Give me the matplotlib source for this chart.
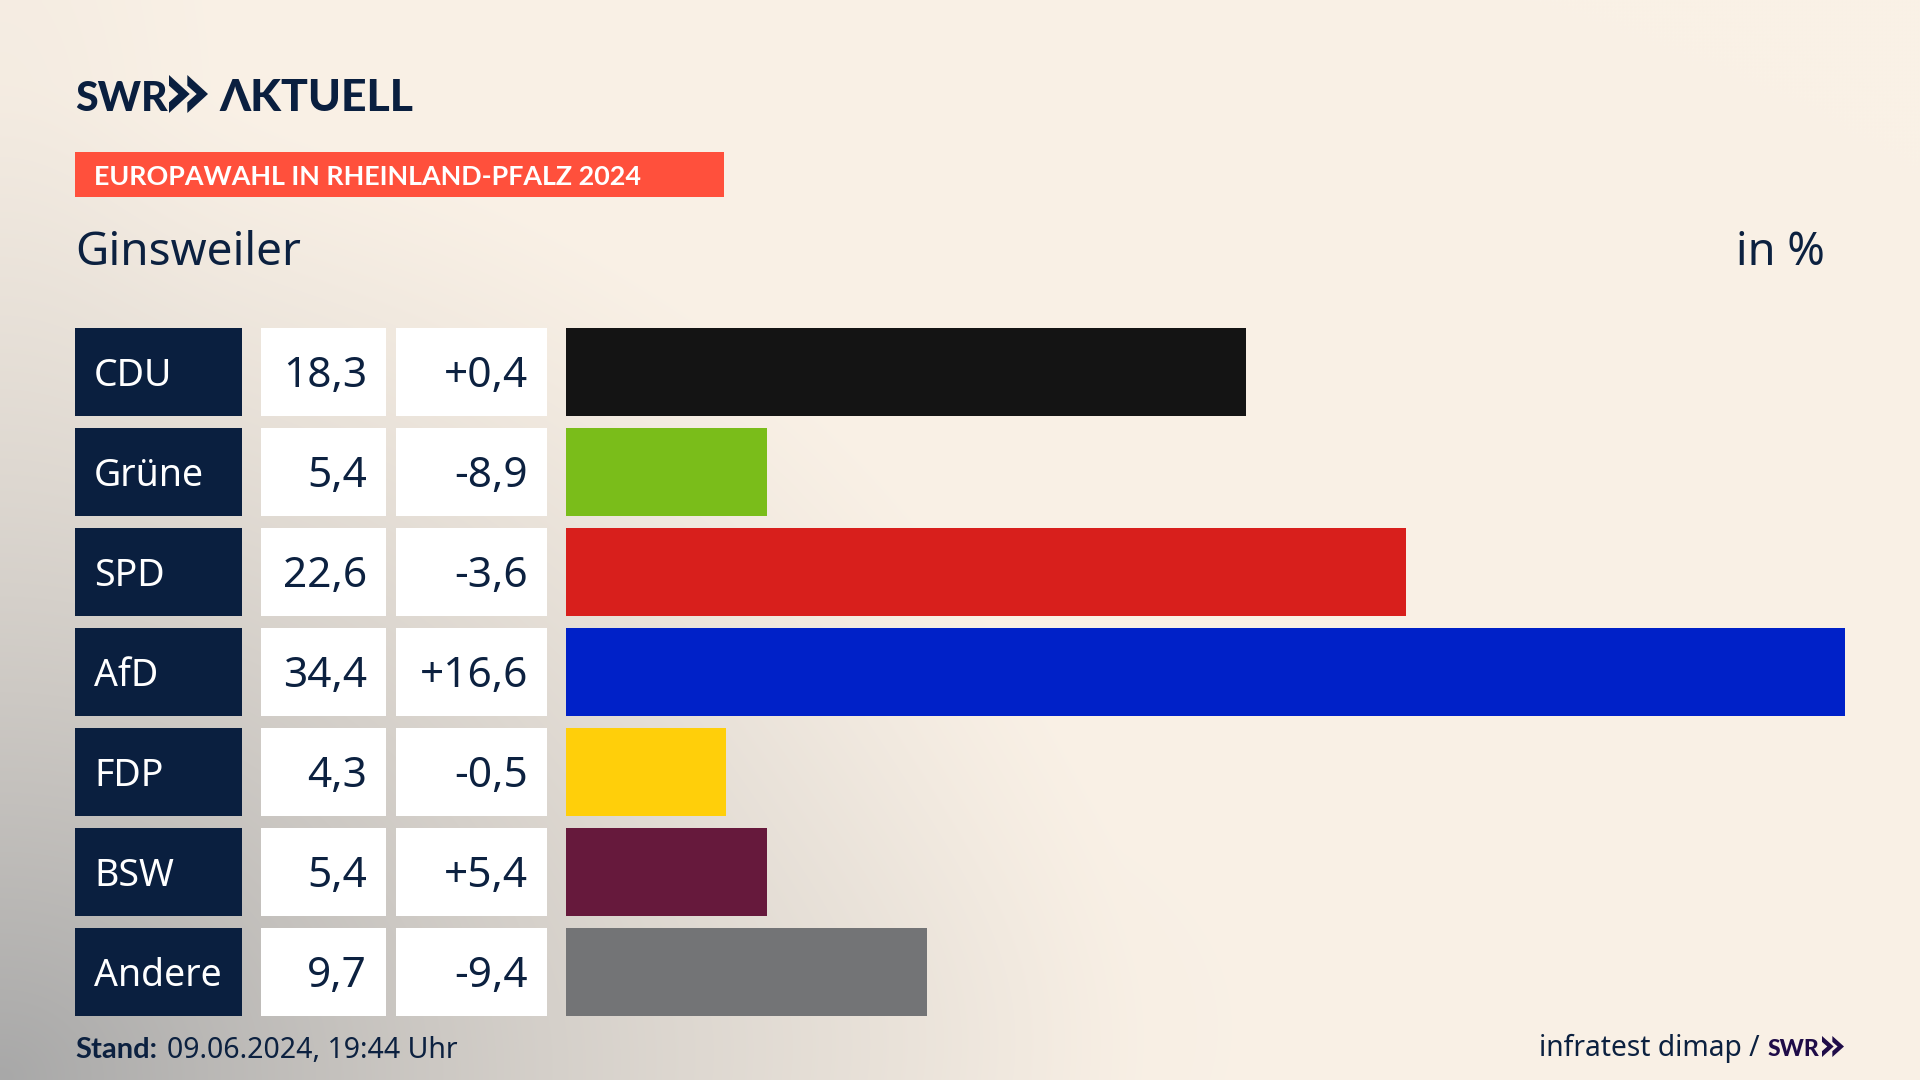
import numpy as np
import matplotlib
matplotlib.use('Agg')
import matplotlib.pyplot as plt
from matplotlib.patches import Polygon, Rectangle

# Daten
parteien = ['CDU', 'Grüne', 'SPD', 'AfD', 'FDP', 'BSW', 'Andere']
anteile = [18.3, 5.4, 22.6, 34.4, 4.3, 5.4, 9.7]
differenz = [0.4, -8.9, -3.6, 16.6, -0.5, 5.4, -9.4]
farben = ['#141414', '#7abd1a', '#d81f1c', '#0021c8', '#ffcf0a', '#66193c', '#737476']

NAVY = '#0a1f3f'
TEXT = '#0c2140'
FONT = ['Noto Sans', 'DejaVu Sans']
BOLD = ['Lato', 'DejaVu Sans']
plt.rcParams['font.family'] = FONT

W, H = 1920, 1080
fig = plt.figure(figsize=(19.2, 10.8), dpi=100)

# Hintergrund: Verlauf von grau (unten links) nach creme
yy, xx = np.mgrid[0:H:270j, 0:W:480j]
d = np.sqrt((xx / 1150) ** 2 + ((H - yy) / 1000) ** 2)
mix = np.clip(1 - d, 0, 1) ** 1.25
mix = mix + 0.07 * np.exp(-(xx / 160) ** 2 - ((yy - 150) / 350) ** 2)
mix = mix + 0.05 * np.exp(-((xx - 900) / 280) ** 2 - ((yy - 1030) / 200) ** 2)
mix = np.clip(mix, 0, 1)[..., None]
creme = np.array([250, 241, 230]) / 255
grau = np.array([168, 168, 168]) / 255
bg = creme * (1 - mix) + grau * mix

ax_bg = fig.add_axes([0, 0, 1, 1])
ax_bg.imshow(bg, extent=(0, W, H, 0), aspect='auto', interpolation='bicubic')
ax_bg.set_xlim(0, W)
ax_bg.set_ylim(H, 0)
ax_bg.axis('off')

# Balken
ROW_TOP, ROW_PITCH, ROW_H = 328, 100, 88
BAR_L, BAR_R = 566, 1845
n = len(parteien)
bottom = ROW_TOP + ROW_PITCH * (n - 1) + ROW_H
ax = fig.add_axes([BAR_L / W, 1 - bottom / H, (BAR_R - BAR_L) / W, (bottom - ROW_TOP) / H])
ax.patch.set_alpha(0)
ax.barh(range(n), anteile, height=ROW_H / ROW_PITCH, color=farben)
ax.set_xlim(0, max(anteile))
ax.set_ylim(n - 1 + ROW_H / ROW_PITCH / 2, -ROW_H / ROW_PITCH / 2)
ax.axis('off')

# Tabelle links
for i, p in enumerate(parteien):
    top = ROW_TOP + i * ROW_PITCH
    mid = top + ROW_H / 2 + 4
    ax_bg.add_patch(Rectangle((75, top), 167, ROW_H, color=NAVY, lw=0))
    ax_bg.add_patch(Rectangle((261, top), 125, ROW_H, color='white', lw=0))
    ax_bg.add_patch(Rectangle((396, top), 151, ROW_H, color='white', lw=0))
    ax_bg.text(94, mid, p, color='white', fontsize=27, va='center', ha='left')
    ax_bg.text(367, mid, f'{anteile[i]:.1f}'.replace('.', ','), color=TEXT, fontsize=30.5,
               va='center', ha='right')
    ax_bg.text(528, mid, f'{differenz[i]:+.1f}'.replace('.', ','), color=TEXT, fontsize=30.5,
               va='center', ha='right')


def chevrons(x, y, w, h, color):
    # zwei Pfeile vom SWR Logo
    step = w * 0.47
    for k in range(2):
        x0 = x + k * step
        ax_bg.add_patch(Polygon([(x0, y), (x0 + w * 0.53, y + h / 2), (x0, y + h),
                                 (x0, y + h * 0.72), (x0 + w * 0.24, y + h / 2), (x0, y + h * 0.28)],
                                closed=True, color=color, lw=0))


# Kopf
ax_bg.text(75, 111, 'SWR', family=BOLD, weight='black', fontsize=29.5, color=NAVY, va='baseline')
chevrons(169, 75, 39, 38, NAVY)
ax_bg.text(219, 111, 'ΛKTUELL', family=BOLD, weight='black', fontsize=32, color=NAVY, va='baseline')

ax_bg.add_patch(Rectangle((75, 152), 649, 45, color='#ff503c', lw=0))
ax_bg.text(94, 177, 'EUROPAWAHL IN RHEINLAND-PFALZ 2024', family=BOLD, color='white', weight='bold',
           fontsize=19.4, va='center', ha='left')
ax_bg.text(75, 253, 'Ginsweiler', color=TEXT, fontsize=33, va='center', ha='left')
ax_bg.text(1825, 253, 'in %', color=TEXT, fontsize=32.5, va='center', ha='right')

# Fuss
ax_bg.text(75, 1050, 'Stand:', family=BOLD, color=TEXT, weight='bold', fontsize=21, va='center', ha='left')
ax_bg.text(167, 1050, '09.06.2024, 19:44 Uhr', color=TEXT, fontsize=20.5, va='center', ha='left')
ax_bg.text(1760, 1048, 'infratest dimap /', color=TEXT, fontsize=20.3, va='center', ha='right')
ax_bg.text(1768, 1056, 'SWR', family=BOLD, weight='black', fontsize=16.5, color='#1f0c48', va='baseline')
chevrons(1822, 1036, 22, 21, '#1f0c48')

fig.savefig('out.png', dpi=100)
